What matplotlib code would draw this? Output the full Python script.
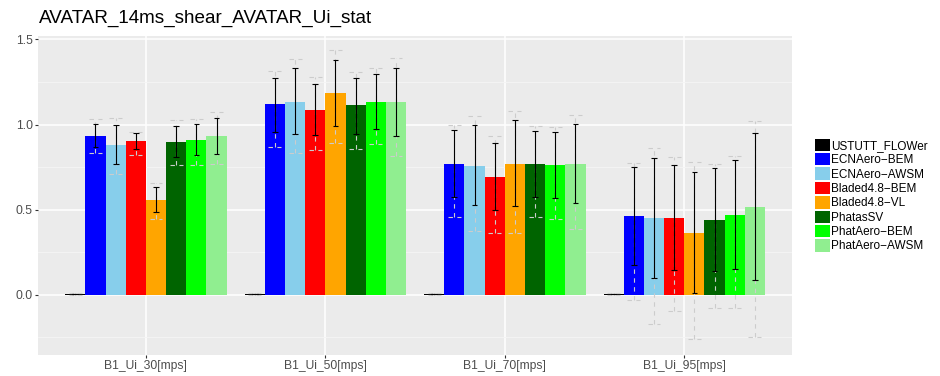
import numpy as np
import matplotlib.pyplot as plt
from matplotlib.patches import Patch

plt.rcParams['font.family'] = ['Liberation Sans', 'DejaVu Sans']

categories = ['B1_Ui_30[mps]', 'B1_Ui_50[mps]', 'B1_Ui_70[mps]', 'B1_Ui_95[mps]']
codes = ['USTUTT_FLOWer', 'ECNAero\u2212BEM', 'ECNAero\u2212AWSM', 'Bladed4.8\u2212BEM',
         'Bladed4.8\u2212VL', 'PhatasSV', 'PhatAero\u2212BEM', 'PhatAero\u2212AWSM']
colors = ['black', '#0000ff', '#87ceeb', '#ff0000', '#ffa500', '#006400', '#00ff00', '#90ee90']

# mean values, one row per code, one column per category
mean = np.array([
    [0.004, 0.004, 0.004, 0.004],
    [0.935, 1.118, 0.771, 0.465],
    [0.880, 1.135, 0.759, 0.453],
    [0.906, 1.088, 0.694, 0.453],
    [0.559, 1.188, 0.771, 0.365],
    [0.900, 1.112, 0.771, 0.441],
    [0.912, 1.135, 0.765, 0.470],
    [0.935, 1.135, 0.771, 0.518],
])
# mean +/- std (solid black bars)
std_hi = np.array([
    [0.006, 0.006, 0.006, 0.006],
    [1.006, 1.275, 0.967, 0.749],
    [0.996, 1.331, 0.996, 0.806],
    [0.951, 1.239, 0.892, 0.763],
    [0.633, 1.380, 1.024, 0.722],
    [0.992, 1.273, 0.961, 0.745],
    [1.006, 1.294, 0.957, 0.790],
    [1.039, 1.333, 1.004, 0.949],
])
std_lo = np.array([
    [0.002, 0.002, 0.002, 0.002],
    [0.868, 0.957, 0.575, 0.176],
    [0.769, 0.943, 0.525, 0.098],
    [0.857, 0.937, 0.496, 0.145],
    [0.486, 0.994, 0.524, 0.010],
    [0.810, 0.947, 0.576, 0.139],
    [0.820, 0.975, 0.569, 0.149],
    [0.827, 0.931, 0.537, 0.086],
])
# min / max (dashed grey bars)
v_max = np.array([
    [0.008, 0.008, 0.008, 0.008],
    [1.030, 1.314, 0.998, 0.775],
    [1.037, 1.386, 1.049, 0.863],
    [0.957, 1.278, 0.935, 0.812],
    [0.659, 1.437, 1.078, 0.782],
    [1.024, 1.310, 0.994, 0.771],
    [1.030, 1.333, 0.988, 0.818],
    [1.075, 1.388, 1.055, 1.022],
])
v_min = np.array([
    [0.000, 0.000, 0.000, 0.000],
    [0.830, 0.869, 0.455, -0.029],
    [0.710, 0.833, 0.373, -0.173],
    [0.820, 0.851, 0.363, -0.094],
    [0.447, 0.890, 0.363, -0.261],
    [0.763, 0.859, 0.457, -0.078],
    [0.765, 0.886, 0.445, -0.080],
    [0.769, 0.818, 0.384, -0.245],
])

fig = plt.figure(figsize=(9.4, 3.76), dpi=100)
ax = fig.add_axes([0.0407, 0.0566, 0.8018, 0.8476])
ax.set_facecolor('#ebebeb')

n = len(codes)
bw = 0.9 / n
xc = np.arange(1, len(categories) + 1)
dash = (0, (4, 4))

for i in range(n):
    x = xc - 0.45 + bw * (i + 0.5)
    ax.bar(x, mean[i], width=bw, color=colors[i], zorder=2)
    # dashed min/max
    ax.vlines(x, v_min[i], v_max[i], colors='#cccccc', linestyles=dash, lw=0.8, zorder=3)
    ax.hlines(v_min[i], x - 0.036, x + 0.036, colors='#cccccc', linestyles=dash, lw=0.8, zorder=3)
    ax.hlines(v_max[i], x - 0.036, x + 0.036, colors='#cccccc', linestyles=dash, lw=0.8, zorder=3)
    # std bars
    ax.vlines(x, std_lo[i], std_hi[i], colors='black', lw=0.8, zorder=4)
    ax.hlines(std_lo[i], x - 0.016, x + 0.016, colors='black', lw=0.8, zorder=4)
    ax.hlines(std_hi[i], x - 0.016, x + 0.016, colors='black', lw=0.8, zorder=4)

ax.set_xlim(0.4, 4.6)
ax.set_ylim(-0.352, 1.52)
ax.set_xticks(xc)
ax.set_xticklabels(categories)
ax.set_yticks([0.0, 0.5, 1.0, 1.5])
ax.set_yticklabels(['0.0', '0.5', '1.0', '1.5'])
ax.set_yticks([-0.25, 0.25, 0.75, 1.25], minor=True)
ax.tick_params(axis='both', which='major', length=2.5, width=0.8, color='#333333',
               labelsize=8.7, labelcolor='#4d4d4d', pad=1.5)
ax.tick_params(axis='y', which='minor', length=0)
ax.grid(True, which='major', color='white', lw=1.1, zorder=0)
ax.grid(True, which='minor', axis='y', color='#f5f5f5', lw=0.6, zorder=0)
ax.set_axisbelow(True)
for s in ax.spines.values():
    s.set_visible(False)

fig.text(39 / 940, 1 - 18 / 376, 'AVATAR_14ms_shear_AVATAR_Ui_stat', fontsize=13.6,
         ha='left', va='center')

handles = [Patch(facecolor=c, edgecolor='none') for c in colors]
fig.legend(handles, codes, loc='center left', bbox_to_anchor=(815 / 940, 0.48),
           frameon=False, fontsize=8.5, handlelength=1.25, handleheight=1.25,
           handletextpad=0.1, labelspacing=0.1, borderpad=0, borderaxespad=0)

fig.savefig('out.png', dpi=100)
